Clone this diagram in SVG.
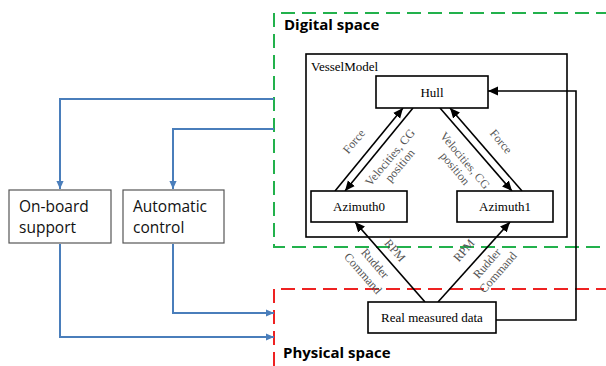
<svg xmlns="http://www.w3.org/2000/svg" width="606" height="366" viewBox="0 0 606 366">
<style>
.bg{fill:#fff}
.space{fill:none;stroke-width:2;stroke-dasharray:14 7}
.green{stroke:#22b14c}
.red{stroke:#ee2222}
.box{fill:#fff;stroke:#000;stroke-width:1.6}
.gbox{fill:#fff;stroke:#555;stroke-width:1.2}
.serif{font-family:"Liberation Serif","Times New Roman",serif;font-size:13px;fill:#000}
.lbl{font-family:"Liberation Serif","Times New Roman",serif;font-size:12px;fill:#555;text-anchor:middle}
.sans{font-family:"Open Sans","Liberation Sans",sans-serif;font-size:15.5px;fill:#111}
.title{font-family:"Open Sans","Liberation Sans",sans-serif;font-size:15px;font-weight:bold;fill:#000}
.blk{fill:none;stroke:#000;stroke-width:1.6}
.blue{fill:none;stroke:#4a7ebb;stroke-width:2}
</style>
<defs>
<marker id="ah" viewBox="0 0 10 10" refX="10" refY="5" markerWidth="10" markerHeight="10" markerUnits="userSpaceOnUse" orient="auto">
<path d="M0,0.5 L10,5 L0,9.5 z" fill="#000"/>
</marker>
<marker id="bh" viewBox="0 0 10 10" refX="10" refY="5" markerWidth="8" markerHeight="8" markerUnits="userSpaceOnUse" orient="auto">
<path d="M0,0.5 L10,5 L0,9.5 z" fill="#4a7ebb"/>
</marker>
</defs>
<rect class="bg" x="0" y="0" width="606" height="366"/>

<g id="digital-space">
<path class="space green" d="M610,13 L274,13 L274,247 L610,247"/>
<text class="title" x="284" y="30">Digital space</text>
</g>
<g id="physical-space">
<path class="space red" d="M610,289 L274,289 L274,370"/>
<text class="title" x="283" y="358">Physical space</text>
</g>

<g id="vesselmodel">
<rect class="box" x="306" y="54" width="261" height="183" stroke-width="2"/>
<text class="serif" x="311" y="71">VesselModel</text>
</g>

<g id="connectors">
<line class="blk" x1="335" y1="191" x2="403" y2="108" marker-end="url(#ah)"/>
<line class="blk" x1="413" y1="108" x2="345" y2="191" marker-end="url(#ah)"/>
<line class="blk" x1="440" y1="108" x2="512" y2="191" marker-end="url(#ah)"/>
<line class="blk" x1="522" y1="191" x2="450" y2="108" marker-end="url(#ah)"/>
<line class="blk" x1="425" y1="302" x2="355" y2="222" marker-end="url(#ah)"/>
<line class="blk" x1="438" y1="302" x2="510" y2="222" marker-end="url(#ah)"/>
<polyline class="blk" points="496,320 576,320 576,91 488,91" marker-end="url(#ah)"/>
<polyline class="blue" points="274,99 60,99 60,189" marker-end="url(#bh)"/>
<polyline class="blue" points="274,129 173,129 173,189" marker-end="url(#bh)"/>
<polyline class="blue" points="173,244 173,313 274,313" marker-end="url(#bh)"/>
<polyline class="blue" points="60,244 60,337 274,337" marker-end="url(#bh)"/>
<text class="lbl" transform="translate(357,144) rotate(-50)">Force</text>
<text class="lbl" transform="translate(393,160) rotate(-50)">Velocities, CG</text>
<text class="lbl" transform="translate(403,168) rotate(-50)">position</text>
<text class="lbl" transform="translate(498,144) rotate(50)">Force</text>
<text class="lbl" transform="translate(462,163) rotate(50)">Velocities, CG</text>
<text class="lbl" transform="translate(452,171) rotate(50)">position</text>
<text class="lbl" transform="translate(392,253) rotate(49)">RPM</text>
<text class="lbl" transform="translate(372,266) rotate(49)">Rudder</text>
<text class="lbl" transform="translate(360,276) rotate(49)">Command</text>
<text class="lbl" transform="translate(467,253) rotate(-49)">RPM</text>
<text class="lbl" transform="translate(490,266) rotate(-49)">Rudder</text>
<text class="lbl" transform="translate(501,275) rotate(-49)">Command</text>
</g>

<g id="hull">
<rect class="box" x="376" y="76" width="112" height="32"/>
<text class="serif" x="432" y="97" text-anchor="middle">Hull</text>
</g>
<g id="azimuth0">
<rect class="box" x="311" y="191" width="96" height="31"/>
<text class="serif" x="359" y="211" text-anchor="middle">Azimuth0</text>
</g>
<g id="azimuth1">
<rect class="box" x="457" y="191" width="96" height="31"/>
<text class="serif" x="505" y="211" text-anchor="middle">Azimuth1</text>
</g>
<g id="real-measured-data">
<rect class="box" x="368" y="302" width="128" height="31"/>
<text class="serif" x="432" y="322" text-anchor="middle">Real measured data</text>
</g>
<g id="on-board-support">
<rect class="gbox" x="9" y="190" width="102" height="53"/>
<text class="sans" x="19" y="212">On-board</text>
<text class="sans" x="19" y="233">support</text>
</g>
<g id="automatic-control">
<rect class="gbox" x="123" y="190" width="101" height="53"/>
<text class="sans" x="133" y="212">Automatic</text>
<text class="sans" x="133" y="233">control</text>
</g>
</svg>
